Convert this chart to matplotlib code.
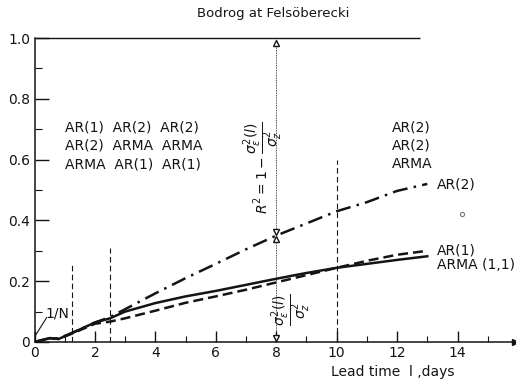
import matplotlib.pyplot as plt
from matplotlib.ticker import MultipleLocator

lead = [0, 0.5, 0.8, 1.25, 2, 2.5, 3, 4, 5, 6, 7, 8, 9, 10, 11, 12, 13]
ar2 = [0, 0.012, 0.012, 0.03, 0.064, 0.082, 0.108, 0.16, 0.21, 0.257, 0.305, 0.35, 0.39, 0.43, 0.46, 0.497, 0.52]
arma = [0, 0.013, 0.01, 0.03, 0.064, 0.078, 0.1, 0.128, 0.15, 0.168, 0.188, 0.208, 0.227, 0.244, 0.257, 0.27, 0.282]
ar1 = [0, 0.012, 0.01, 0.028, 0.06, 0.067, 0.078, 0.103, 0.129, 0.15, 0.172, 0.196, 0.22, 0.244, 0.267, 0.287, 0.30]

# vertical dashed marks (lead time, height)
marks_x = [1.25, 2.5, 10]
marks_top = [0.255, 0.31, 0.6]

left_block = ['AR(1)  AR(2)  AR(2)', 'AR(2)  ARMA  ARMA', 'ARMA  AR(1)  AR(1)']
right_block = ['AR(2)', 'AR(2)', 'ARMA']

ink = '#141414'
plt.rcParams['font.family'] = 'DejaVu Sans'

fig = plt.figure(figsize=(5.16, 3.87), dpi=100)
ax = fig.add_axes([0.0669, 0.1163, 0.931, 0.7855])

ax.plot(lead, ar2, color=ink, lw=1.8, dashes=(6, 2.5, 1, 2.5))
ax.plot(lead, arma, color=ink, lw=1.8)
ax.plot(lead, ar1, color=ink, lw=1.8, dashes=(4, 2))

for mx, mt in zip(marks_x, marks_top):
	ax.plot([mx, mx], [0, mt], color=ink, lw=0.8, dashes=(5, 3))

# R^2 arrow at l = 8
ax.plot([8, 8], [0, 1.0], color=ink, lw=0.6, dashes=(1, 1))
ax.plot([8], [0.985], marker='^', color=ink, ms=4, mfc='white', clip_on=False)
ax.plot([8], [0.362], marker='v', color=ink, ms=4, mfc='white')
ax.plot([8], [0.338], marker='^', color=ink, ms=4, mfc='white')
ax.plot([8], [0.012], marker='v', color=ink, ms=4, mfc='white')

ax.hlines(1.0, 0, 12.75, color=ink, lw=1.0, clip_on=False)

ax.plot([0.02, 0.4], [0.02, 0.08], color=ink, lw=0.8)
ax.text(0.35, 0.095, '1/N', fontsize=10, color=ink, va='center')

for i, (a, b) in enumerate(zip(left_block, right_block)):
	y = 0.705 - i * 0.06
	ax.text(1.0, y, a, fontsize=10, color=ink, va='center')
	ax.text(11.84, y, b, fontsize=10, color=ink, va='center')

ax.text(13.33, 0.517, 'AR(2)', fontsize=10, color=ink, va='center')
ax.text(13.33, 0.30, 'AR(1)', fontsize=10, color=ink, va='center')
ax.text(13.33, 0.254, 'ARMA (1,1)', fontsize=10, color=ink, va='center')
ax.plot([14.16], [0.42], marker='o', ms=3, mfc='white', color='#777777', mew=0.8)

ax.text(7.58, 0.575, r'$R^2 = 1 - \dfrac{\sigma_\varepsilon^2(l)}{\sigma_z^2}$',
	rotation=90, fontsize=10, color=ink, ha='center', va='center')
ax.text(8.5, 0.105, r'$\dfrac{\sigma_\varepsilon^2(l)}{\sigma_z^2}$',
	rotation=90, fontsize=10, color=ink, ha='center', va='center')

ax.set_xlim(0, 15.9)
ax.set_ylim(0, 1.0)
ax.spines['top'].set_visible(False)
ax.spines['right'].set_visible(False)
for s in ('left', 'bottom'):
	ax.spines[s].set_color(ink)
	ax.spines[s].set_linewidth(1.1)
ax.plot(1, 0, '>', color=ink, ms=4, transform=ax.get_yaxis_transform(), clip_on=False)

ax.xaxis.set_minor_locator(MultipleLocator(1))
ax.yaxis.set_minor_locator(MultipleLocator(0.1))
ax.set_xticks([0, 2, 4, 6, 8, 10, 12, 14])
ax.set_xticklabels(['0', '2', '4', '6', '8', '10', '12', '14'])
ax.set_yticks([0, 0.2, 0.4, 0.6, 0.8, 1.0])
ax.set_yticklabels(['0', '0.2', '0.4', '0.6', '0.8', '1.0'])
ax.tick_params(which='both', direction='in', colors=ink, labelsize=10, pad=3)
ax.tick_params(axis='x', which='major', length=8, width=1)
ax.tick_params(axis='x', which='minor', length=4, width=0.8)
ax.tick_params(axis='y', which='major', length=10, width=1)
ax.tick_params(axis='y', which='minor', length=5, width=0.8)

fig.text(273 / 516, 1 - 14 / 387, 'Bodrog at Felsöberecki', fontsize=9.5,
	color=ink, ha='center', va='center')
fig.text(393 / 516, 1 - 372 / 387, 'Lead time  l ,days', fontsize=10,
	color=ink, ha='center', va='center')

fig.savefig('out.png', dpi=100)
